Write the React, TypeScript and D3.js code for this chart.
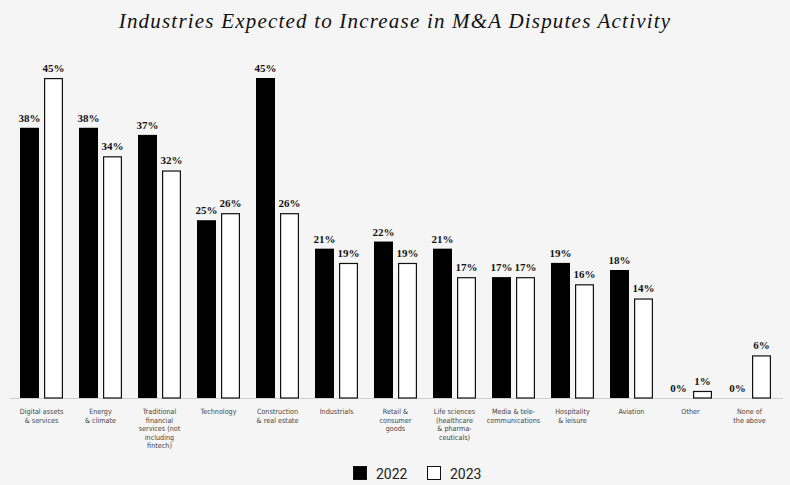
import React from "react";
import * as d3 from "d3";

const categories: string[][] = [
  ["Digital assets", "& services"],
  ["Energy", "& climate"],
  ["Traditional", "financial", "services (not", "including", "fintech)"],
  ["Technology"],
  ["Construction", "& real estate"],
  ["Industrials"],
  ["Retail &", "consumer", "goods"],
  ["Life sciences", "(healthcare", "& pharma-", "ceuticals)"],
  ["Media & tele-", "communications"],
  ["Hospitality", "& leisure"],
  ["Aviation"],
  ["Other"],
  ["None of", "the above"],
];
const values2022: number[] = [38, 38, 37, 25, 45, 21, 22, 21, 17, 19, 18, 0, 0];
const values2023: number[] = [45, 34, 32, 26, 26, 19, 19, 17, 17, 16, 14, 1, 6];
const seriesNames: string[] = ["2022", "2023"];

const W = 790;
const H = 485;
const BASE = 398;

export default function App() {
  const keys = categories.map((c) => c.join(" "));
  const x = d3
    .scaleBand<string>()
    .domain(keys)
    .range([12, 779])
    .paddingInner(0.271)
    .paddingOuter(0.1355);
  const xs = d3
    .scaleBand<string>()
    .domain(seriesNames)
    .range([0, x.bandwidth()])
    .paddingInner(0.2083);
  const y = d3.scaleLinear().domain([0, 45]).range([BASE, 78]);

  const series = [values2022, values2023];

  return (
    <div style={{ position: "fixed", left: 0, top: 0, width: W, height: H }}>
      <svg width={W} height={H} style={{ display: "block", background: "#f5f5f5" }}>
        <text
          x={395}
          y={28}
          textAnchor="middle"
          fontFamily="'Liberation Serif', serif"
          fontStyle="italic"
          fontSize={21}
          letterSpacing={1.2}
          fill="#111"
        >
          Industries Expected to Increase in M&amp;A Disputes Activity
        </text>

        <line x1={10} x2={783} y1={BASE + 0.5} y2={BASE + 0.5} stroke="#cfcfcf" strokeWidth={1} />

        {keys.map((k, i) => (
          <g key={k} transform={`translate(${x(k)},0)`}>
            {seriesNames.map((s, j) => {
              const v = series[j][i];
              const bx = xs(s)!;
              const bw = xs.bandwidth();
              const top = y(v);
              return (
                <g key={s}>
                  {v > 0 &&
                    (j === 0 ? (
                      <rect x={bx} y={top} width={bw} height={BASE - top} fill="#000" />
                    ) : (
                      <rect
                        x={bx + 0.6}
                        y={top + 0.6}
                        width={bw - 1.2}
                        height={BASE - top - 0.6}
                        fill="#fff"
                        stroke="#111"
                        strokeWidth={1.2}
                      />
                    ))}
                  <text
                    x={bx + bw / 2}
                    y={top - 6}
                    textAnchor="middle"
                    fontFamily="'Liberation Serif', serif"
                    fontWeight="bold"
                    fontSize={11}
                    fill="#111"
                  >
                    {v}%
                  </text>
                </g>
              );
            })}
            <text
              x={x.bandwidth() / 2}
              y={414}
              textAnchor="middle"
              fontFamily="'DejaVu Sans Condensed', 'DejaVu Sans', sans-serif"
              fontSize={7.2}
              fill="#444"
            >
              {categories[i].map((line, li) => (
                <tspan key={li} x={x.bandwidth() / 2} dy={li === 0 ? 0 : 8.5}>
                  {line}
                </tspan>
              ))}
            </text>
          </g>
        ))}

        {seriesNames.map((s, j) => {
          const lx = 353 + j * 74;
          return (
            <g key={s}>
              <rect
                x={lx + 0.5}
                y={466.5}
                width={13}
                height={13}
                fill={j === 0 ? "#000" : "#fff"}
                stroke="#111"
                strokeWidth={1}
              />
              <text x={lx + 23} y={479} fontFamily="Roboto, sans-serif" fontSize={14} fill="#222">
                {s}
              </text>
            </g>
          );
        })}
      </svg>
    </div>
  );
}
